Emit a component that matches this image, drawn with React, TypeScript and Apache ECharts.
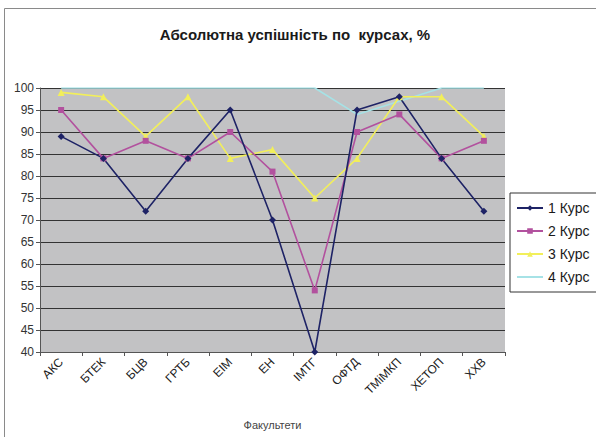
import React, { useEffect, useRef } from "react";
import * as echarts from "echarts";

const faculties = ["АКС", "БТЕК", "БЦВ", "ГРТБ", "ЕІМ", "ЕН", "ІМТГ", "ОФТД", "ТМіМКП", "ХЕТОП", "ХХВ"];
const course1 = [89, 84, 72, 84, 95, 70, 40, 95, 98, 84, 72];
const course2 = [95, 84, 88, 84, 90, 81, 54, 90, 94, 84, 88];
const course3 = [99, 98, 89, 98, 84, 86, 75, 84, 98, 98, 89];
const course4 = [100, 100, 100, 100, 100, 100, 100, 94, 97, 100, 100];
const yTicks = { min: 40, max: 100, step: 5 };

export default function App() {
  const ref = useRef<HTMLDivElement>(null);

  useEffect(() => {
    if (!ref.current) return;
    const chart = echarts.init(ref.current, undefined, { renderer: "svg" });
    const font = "'Liberation Sans', Arial, sans-serif";
    const mk = (name: string, data: number[], color: string, symbol: string, size: number) => ({
      name,
      type: "line",
      data,
      symbol,
      symbolSize: size,
      lineStyle: { color, width: 1.6 },
      itemStyle: { color },
      emphasis: { disabled: true },
    });
    chart.setOption({
      animation: false,
      backgroundColor: "#ffffff",
      textStyle: { fontFamily: font },
      title: {
        text: "Абсолютна успішність по  курсах, %",
        left: 290,
        top: 22,
        textAlign: "center",
        textStyle: { fontSize: 15, fontWeight: "bold", color: "#1a1a1a", fontFamily: font },
      },
      graphic: [
        {
          type: "rect",
          shape: { x: 4.5, y: 8.5, width: 600, height: 440 },
          style: { fill: "none", stroke: "#8a8a8a", lineWidth: 1 },
          silent: true,
        },
      ],
      legend: {
        orient: "vertical",
        left: 510,
        top: 193,
        itemWidth: 26,
        itemHeight: 7,
        itemGap: 9,
        padding: [8, 10, 8, 6],
        borderColor: "#333",
        borderWidth: 1,
        backgroundColor: "#ffffff",
        borderRadius: 0,
        textStyle: { fontSize: 14, color: "#1a1a1a", fontFamily: font },
        data: ["1 Курс", "2 Курс", "3 Курс", "4 Курс"],
      },
      grid: { left: 40, right: 91, top: 88, bottom: 85, containLabel: false, show: true, backgroundColor: "#c2c2c4", borderWidth: 0 },
      xAxis: {
        type: "category",
        data: faculties,
        boundaryGap: true,
        name: "Факультети",
        nameLocation: "middle",
        nameGap: 67,
        nameTextStyle: { fontSize: 11, color: "#444", fontFamily: font },
        axisLine: { lineStyle: { color: "#555", width: 1 } },
        axisTick: { show: true, alignWithLabel: false, length: 4, lineStyle: { color: "#555" } },
        axisLabel: { rotate: 45, fontSize: 12, color: "#222", margin: 8, interval: 0 },
        splitLine: { show: false },
      },
      yAxis: {
        type: "value",
        min: yTicks.min,
        max: yTicks.max,
        interval: yTicks.step,
        axisLine: { show: true, lineStyle: { color: "#555", width: 1 } },
        axisTick: { show: true, length: 4, lineStyle: { color: "#555" } },
        axisLabel: { fontSize: 12, color: "#333", margin: 6 },
        splitLine: { show: true, lineStyle: { color: "#333", width: 1.2 } },
      },
      series: [
        mk("4 Курс", course4, "#a6e2e6", "path://M0,0L10,10M10,0L0,10", 6),
        mk("3 Курс", course3, "#f2ef5a", "triangle", 7),
        mk("2 Курс", course2, "#b2519e", "rect", 6),
        mk("1 Курс", course1, "#1e2366", "diamond", 7),
      ],
    });
    return () => chart.dispose();
  }, []);

  return <div ref={ref} style={{ position: "fixed", left: 0, top: 0, width: 596, height: 437 }} />;
}
